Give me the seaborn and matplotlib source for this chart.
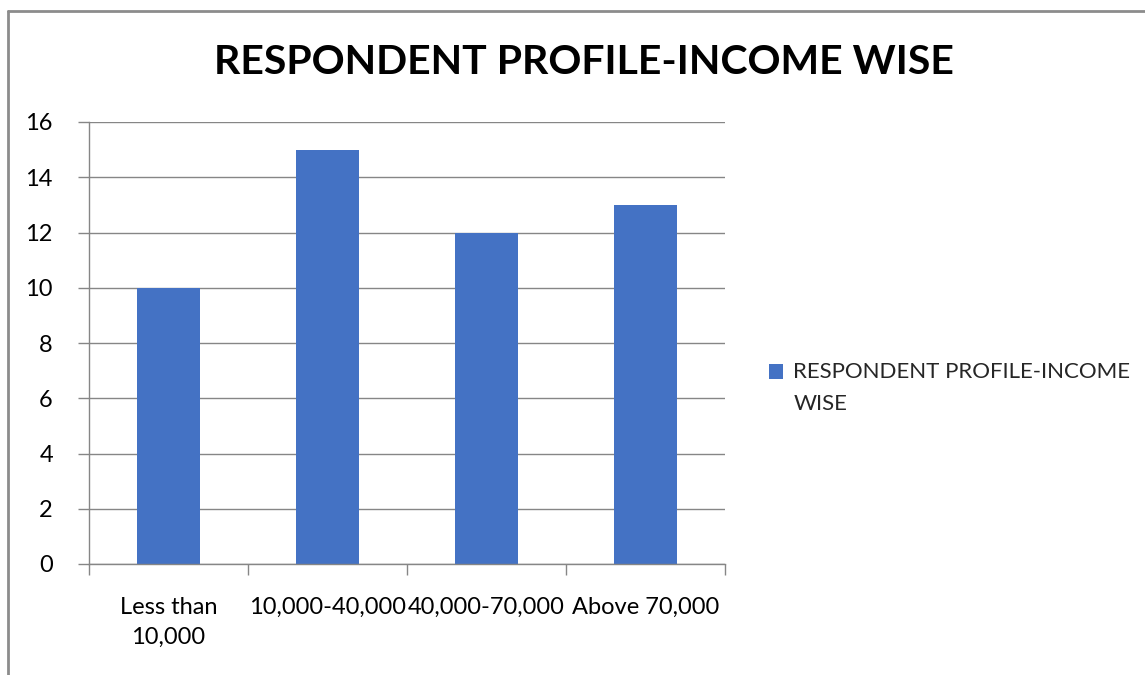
import matplotlib
matplotlib.use("Agg")
import matplotlib.pyplot as plt
from matplotlib.lines import Line2D
from matplotlib.patches import Patch, Rectangle
from matplotlib.legend_handler import HandlerPatch
import seaborn as sns
import pandas as pd

categories = ["Less than\n10,000", "10,000-40,000", "40,000-70,000", "Above 70,000"]
respondents = [10, 15, 12, 13]
series_name = "RESPONDENT PROFILE-INCOME WISE"
y_ticks = [0, 2, 4, 6, 8, 10, 12, 14, 16]

sns.set_theme(style="white")
plt.rcParams["font.family"] = ["Lato", "DejaVu Sans"]

bar_color = "#4472C4"
grid_color = "#868686"

df = pd.DataFrame({"income": categories, "count": respondents})

fig = plt.figure(figsize=(11.45, 6.75), dpi=100)
ax = fig.add_axes([89 / 1145, 1 - 564 / 675, (725 - 89) / 1145, (564 - 122) / 675])

sns.barplot(data=df, x="income", y="count", color=bar_color, width=0.4,
            saturation=1, linewidth=0, ax=ax)

ax.set_xlim(-0.5, len(categories) - 0.5)
ax.set_ylim(0, 16)
ax.set_yticks(y_ticks)
ax.set_xlabel("")
ax.set_ylabel("")

ax.yaxis.grid(True, color=grid_color, linewidth=1)
ax.set_axisbelow(True)
for side in ["top", "right"]:
    ax.spines[side].set_visible(False)
for side in ["left", "bottom"]:
    ax.spines[side].set_color(grid_color)
    ax.spines[side].set_linewidth(1)

ax.tick_params(axis="y", which="major", left=True, length=8, width=1,
               color=grid_color, labelsize=17, labelcolor="black", pad=18)
ax.tick_params(axis="x", which="major", bottom=False, labelsize=17,
               labelcolor="black", pad=18)
ax.set_xticks([i - 0.5 for i in range(len(categories) + 1)], minor=True)
ax.tick_params(axis="x", which="minor", bottom=True, length=8, width=1,
               color=grid_color)
for lbl in ax.get_xticklabels():
    lbl.set_linespacing(1.5)

fig.text(584 / 1145, 1 - 63 / 675, "RESPONDENT PROFILE-INCOME WISE",
         ha="center", va="center", fontsize=29.5, fontweight="bold", color="black")


# legend key sits beside the first line of the wrapped label
def top_line_square(legend, orig_handle, xdescent, ydescent, width, height, fontsize):
    return Rectangle((-xdescent, -ydescent + 11.8), width, height)


handles = [Patch(facecolor=bar_color, edgecolor=bar_color, linewidth=0)]
leg = fig.legend(handles, ["RESPONDENT PROFILE-INCOME\nWISE"], loc="center left",
                 bbox_to_anchor=(769 / 1145, 1 - 388 / 675), frameon=False,
                 borderpad=0, borderaxespad=0,
                 fontsize=16, handlelength=0.65, handleheight=0.65,
                 handletextpad=0.45, alignment="left",
                 handler_map={Patch: HandlerPatch(patch_func=top_line_square)})
for t in leg.get_texts():
    t.set_linespacing(1.75)

# chart area border (left and top edges visible)
fig.add_artist(Line2D([8 / 1145, 8 / 1145], [0, 1 - 11 / 675],
                      transform=fig.transFigure, color="#8c8c8c", linewidth=2))
fig.add_artist(Line2D([8 / 1145, 1], [1 - 11 / 675, 1 - 11 / 675],
                      transform=fig.transFigure, color="#8c8c8c", linewidth=2))

fig.savefig("out.png", dpi=100)
